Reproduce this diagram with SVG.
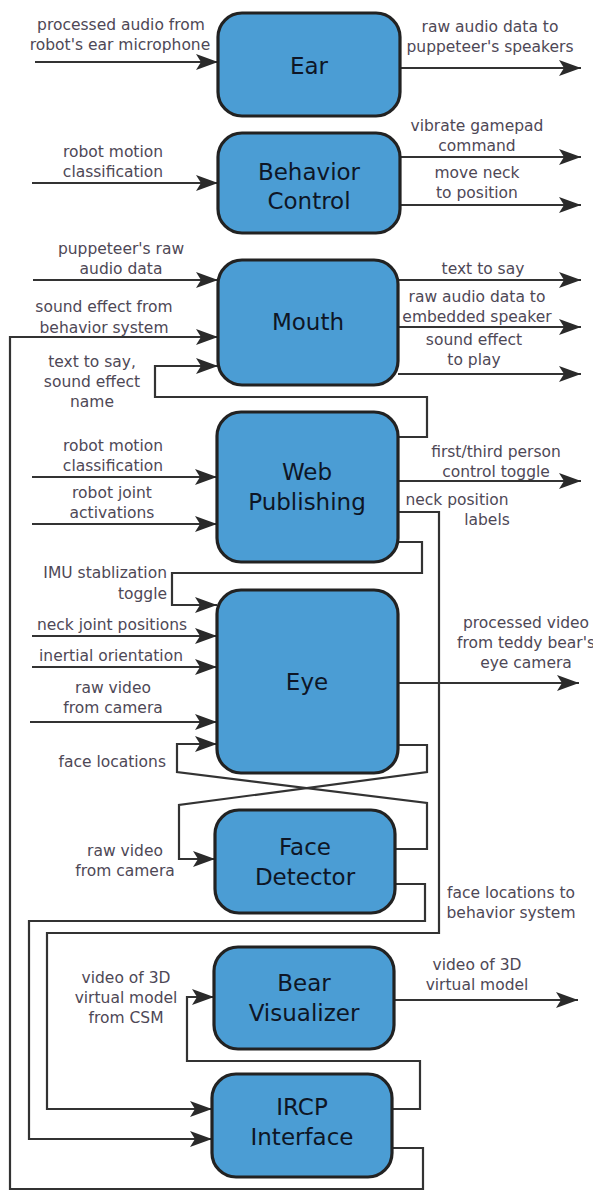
<svg xmlns="http://www.w3.org/2000/svg" width="593" height="1191" viewBox="0 0 593 1191">
<defs>
<marker id="ah" markerUnits="userSpaceOnUse" markerWidth="24" markerHeight="18" refX="22" refY="9" orient="auto">
<path d="M0,1 L22,9 L0,17 L5,9 Z" fill="#2a2a2a"/>
</marker>
<style>
.box{fill:#4b9dd4;stroke:#222;stroke-width:3.2}
.nt{font-family:"DejaVu Sans",sans-serif;font-size:23px;fill:#0e1626;text-anchor:middle}
.lb{font-family:"DejaVu Sans",sans-serif;font-size:15.5px;fill:#4e4856;text-anchor:middle}
.rt{text-anchor:end}
.cn path{fill:none;stroke:#333;stroke-width:2.2}
.ar{marker-end:url(#ah)}
</style>
</defs>
<rect width="593" height="1191" fill="#fff"/>
<g class="cn" id="connectors">
<path class="ar" d="M35,62 H218"/>
<path class="ar" d="M400,68 H581"/>
<path class="ar" d="M32,183 H218"/>
<path class="ar" d="M400,157 H581"/>
<path class="ar" d="M400,205 H581"/>
<path class="ar" d="M33,280 H218"/>
<path class="ar" d="M392,1148 H423 V1189 H10 V337 H218"/>
<path class="ar" d="M398,437 H427 V397 H155 V366 H218"/>
<path class="ar" d="M398,280 H581"/>
<path class="ar" d="M398,327 H581"/>
<path class="ar" d="M398,374 H581"/>
<path class="ar" d="M32,477 H217"/>
<path class="ar" d="M32,524 H217"/>
<path class="ar" d="M398,481 H581"/>
<path class="ar" d="M398,512 H439 V933 H47 V1109 H212"/>
<path class="ar" d="M398,542 H422 V573 H172 V605 H217"/>
<path class="ar" d="M32,636 H217"/>
<path class="ar" d="M32,667 H217"/>
<path class="ar" d="M30,722 H217"/>
<path class="ar" d="M395,849 H427 V803 L177,772 V744 H217"/>
<path class="ar" d="M398,745 H427 V772 L179,805 V859 H215"/>
<path class="ar" d="M398,683 H579"/>
<path class="ar" d="M395,884 H425 V921 H29 V1139 H212"/>
<path class="ar" d="M392,1109 H420 V1061 H187 V997 H214"/>
<path class="ar" d="M394,1000 H578"/>
</g>
<g id="labels">
<text class="lb" x="121" y="30">processed audio from</text>
<text class="lb" x="120" y="50">robot's ear microphone</text>
<text class="lb" x="490" y="32">raw audio data to</text>
<text class="lb" x="490" y="52">puppeteer's speakers</text>
<text class="lb" x="113" y="157">robot motion</text>
<text class="lb" x="113" y="177">classification</text>
<text class="lb" x="477" y="131">vibrate gamepad</text>
<text class="lb" x="477" y="151">command</text>
<text class="lb" x="477" y="178">move neck</text>
<text class="lb" x="477" y="198">to position</text>
<text class="lb" x="121" y="254">puppeteer's raw</text>
<text class="lb" x="121" y="274">audio data</text>
<text class="lb" x="104" y="312">sound effect from</text>
<text class="lb" x="104" y="333">behavior system</text>
<text class="lb" x="92" y="367">text to say,</text>
<text class="lb" x="92" y="387">sound effect</text>
<text class="lb" x="92" y="407">name</text>
<text class="lb" x="483" y="274">text to say</text>
<text class="lb" x="477" y="302">raw audio data to</text>
<text class="lb" x="477" y="322">embedded speaker</text>
<text class="lb" x="474" y="345">sound effect</text>
<text class="lb" x="474" y="365">to play</text>
<text class="lb" x="113" y="451">robot motion</text>
<text class="lb" x="113" y="471">classification</text>
<text class="lb" x="112" y="498">robot joint</text>
<text class="lb" x="112" y="518">activations</text>
<text class="lb" x="496" y="457">first/third person</text>
<text class="lb" x="496" y="477">control toggle</text>
<text class="lb" x="457" y="505">neck position</text>
<text class="lb" x="487" y="525">labels</text>
<text class="lb rt" x="167" y="578">IMU stablization</text>
<text class="lb rt" x="167" y="599">toggle</text>
<text class="lb" x="112" y="630">neck joint positions</text>
<text class="lb" x="111" y="661">inertial orientation</text>
<text class="lb" x="113" y="693">raw video</text>
<text class="lb" x="113" y="713">from camera</text>
<text class="lb rt" x="166" y="767">face locations</text>
<text class="lb" x="526" y="628">processed video</text>
<text class="lb" x="526" y="648">from teddy bear's</text>
<text class="lb" x="526" y="668">eye camera</text>
<text class="lb" x="125" y="856">raw video</text>
<text class="lb" x="125" y="876">from camera</text>
<text class="lb" x="511" y="898">face locations to</text>
<text class="lb" x="511" y="918">behavior system</text>
<text class="lb" x="126" y="983">video of 3D</text>
<text class="lb" x="126" y="1003">virtual model</text>
<text class="lb" x="126" y="1023">from CSM</text>
<text class="lb" x="477" y="970">video of 3D</text>
<text class="lb" x="477" y="990">virtual model</text>
</g>
<g id="ear"><rect class="box" x="218" y="13" width="182" height="103" rx="24"/><text class="nt" x="309" y="74">Ear</text></g>
<g id="behavior"><rect class="box" x="218" y="133" width="182" height="100" rx="24"/><text class="nt" x="309" y="180">Behavior</text><text class="nt" x="309" y="209">Control</text></g>
<g id="mouth"><rect class="box" x="218" y="260" width="180" height="125" rx="24"/><text class="nt" x="308" y="330">Mouth</text></g>
<g id="web"><rect class="box" x="217" y="412" width="181" height="150" rx="24"/><text class="nt" x="307" y="480">Web</text><text class="nt" x="307" y="510">Publishing</text></g>
<g id="eye"><rect class="box" x="217" y="590" width="181" height="183" rx="24"/><text class="nt" x="307" y="690">Eye</text></g>
<g id="face"><rect class="box" x="215" y="810" width="180" height="103" rx="24"/><text class="nt" x="305" y="855">Face</text><text class="nt" x="305" y="885">Detector</text></g>
<g id="bear"><rect class="box" x="214" y="947" width="180" height="102" rx="24"/><text class="nt" x="304" y="991">Bear</text><text class="nt" x="304" y="1021">Visualizer</text></g>
<g id="ircp"><rect class="box" x="212" y="1074" width="180" height="103" rx="24"/><text class="nt" x="302" y="1115">IRCP</text><text class="nt" x="302" y="1145">Interface</text></g>
</svg>
